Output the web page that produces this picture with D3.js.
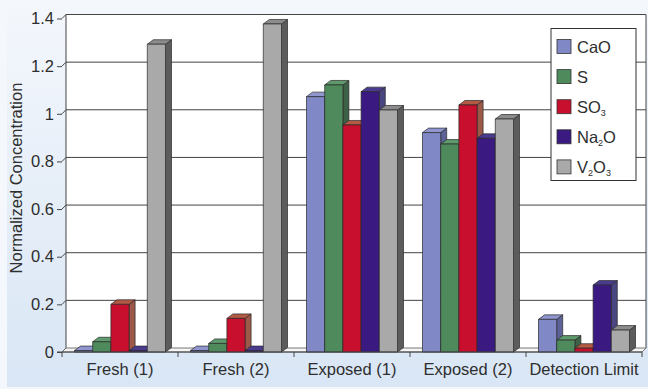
<!DOCTYPE html>
<html>
<head>
<meta charset="utf-8">
<script src="https://cdn.jsdelivr.net/npm/d3@7"></script>
<style>
  html, body { margin: 0; padding: 0; background: #fff; }
  svg { display: block; }
  text { font-family: "Liberation Sans", Arial, sans-serif; fill: #2e2e2e; }
</style>
</head>
<body>
<svg id="chart" width="648" height="389"></svg>
<script>
// Sample groups along the category axis
const categories = ["Fresh (1)", "Fresh (2)", "Exposed (1)", "Exposed (2)", "Detection Limit"];

// Normalized concentration per compound, one value per sample group
const caO  = [0.006, 0.006, 1.072, 0.921, 0.137];
const sulf = [0.043, 0.036, 1.121, 0.873, 0.050];
const so3  = [0.200, 0.141, 0.953, 1.037, 0.016];
const na2O = [0.006, 0.006, 1.093, 0.897, 0.281];
const v2O3 = [1.292, 1.377, 1.016, 0.978, 0.092];

// Legend entries: pieces of text, flagged when subscript
const seriesKeys = ["CaO", "S", "SO3", "Na2O", "V2O3"];
const legendParts = [
  [["CaO", false]],
  [["S", false]],
  [["SO", false], ["3", true]],
  [["Na", false], ["2", true], ["O", false]],
  [["V", false], ["2", true], ["O", false], ["3", true]]
];

// Value-axis ticks
const yTicks = [0, 0.2, 0.4, 0.6, 0.8, 1, 1.2, 1.4];
const yTickLabels = ["0", "0.2", "0.4", "0.6", "0.8", "1", "1.2", "1.4"];

const seriesValues = [caO, sulf, so3, na2O, v2O3];

// Face colours for each series: front, top, side
const faceColors = [
  { front: "#8088c6", top: "#9097cf", side: "#5d6398" },
  { front: "#4f8a5c", top: "#5e9a6b", side: "#3d6146" },
  { front: "#c8102e", top: "#b35a45", side: "#9c5848" },
  { front: "#3a1a80", top: "#4b3b8e", side: "#4a4680" },
  { front: "#a9a9a9", top: "#8c8c8c", side: "#5c5c5c" }
];

const FONT = 16.5;
const svg = d3.select("#chart");

// Background panel
const defs = svg.append("defs");
const grad = defs.append("linearGradient")
  .attr("id", "bg").attr("x1", 0).attr("y1", 0).attr("x2", 0).attr("y2", 1);
grad.append("stop").attr("offset", "0%").attr("stop-color", "#f4f7fc");
grad.append("stop").attr("offset", "100%").attr("stop-color", "#d9e6f5");
svg.append("rect").attr("x", 0).attr("y", 0).attr("width", 648).attr("height", 389).attr("fill", "#f4f8fc");
svg.append("rect").attr("x", 7).attr("y", 0).attr("width", 641).attr("height", 387).attr("fill", "url(#bg)");

// Front plane geometry and depth offsets
const front = { left: 62, right: 642, bottom: 352 };
const wallDx = 4, wallDy = -4;      // back wall offset
const barDx = 6, barDy = -4.5;      // bar depth offset

const x = d3.scaleBand().domain(categories).range([front.left, front.right]).paddingInner(0).paddingOuter(0);
const y = d3.scaleLinear().domain([0, 1.4]).range([front.bottom, 18.5]);

const groupWidth = 91;
const xs = d3.scaleBand().domain(seriesKeys)
  .range([0, groupWidth]).paddingInner(0).paddingOuter(0);

// Back wall
const wallLeft = front.left + wallDx, wallRight = front.right + wallDx;
svg.append("rect")
  .attr("x", wallLeft).attr("y", y(1.4) + wallDy)
  .attr("width", wallRight - wallLeft)
  .attr("height", y(0) - y(1.4))
  .attr("fill", "#ffffff");

// Gridlines on the back wall, with side-wall connectors to the ticks
const grid = svg.append("g").attr("stroke", "#444").attr("stroke-width", 1).attr("fill", "none");
yTicks.forEach(v => {
  const yy = y(v) + wallDy;
  if (v > 0) {
    grid.append("line").attr("x1", wallLeft).attr("x2", wallRight).attr("y1", yy).attr("y2", yy);
  }
  grid.append("line")
    .attr("x1", front.left).attr("y1", y(v))
    .attr("x2", wallLeft).attr("y2", yy);
});
grid.append("line").attr("x1", wallLeft).attr("x2", wallLeft)
  .attr("y1", y(1.4) + wallDy).attr("y2", y(0) + wallDy);
grid.append("line").attr("x1", wallRight).attr("x2", wallRight)
  .attr("y1", y(1.4) + wallDy).attr("y2", y(0) + wallDy);

// Floor
svg.append("path")
  .attr("d", `M${front.left},${front.bottom} L${front.right},${front.bottom} L${wallRight},${front.bottom + wallDy} L${wallLeft},${front.bottom + wallDy} Z`)
  .attr("fill", "#f6f6f4").attr("stroke", "#555").attr("stroke-width", 0.8);

// 3D columns, drawn left to right so nearer faces paint over
const bars = svg.append("g").attr("stroke", "#2a2a2a").attr("stroke-width", 0.7).attr("stroke-linejoin", "round");
categories.forEach((cat, ci) => {
  const gx = x(cat) + (x.bandwidth() - groupWidth) / 2;
  seriesKeys.forEach((key, si) => {
    const v = seriesValues[si][ci];
    const x0 = gx + xs(key), x1 = x0 + xs.bandwidth();
    const yTop = y(v), yBot = y(0);
    const c = faceColors[si];
    // side face
    bars.append("path")
      .attr("d", `M${x1},${yBot} L${x1 + barDx},${yBot + barDy} L${x1 + barDx},${yTop + barDy} L${x1},${yTop} Z`)
      .attr("fill", c.side);
    // top face
    bars.append("path")
      .attr("d", `M${x0},${yTop} L${x1},${yTop} L${x1 + barDx},${yTop + barDy} L${x0 + barDx},${yTop + barDy} Z`)
      .attr("fill", c.top);
    // front face
    bars.append("rect")
      .attr("x", x0).attr("y", yTop)
      .attr("width", x1 - x0).attr("height", Math.max(0, yBot - yTop))
      .attr("fill", c.front);
  });
});

// Value axis
const yAxis = d3.axisLeft(y)
  .tickValues(yTicks)
  .tickFormat((d, i) => yTickLabels[i])
  .tickSize(5).tickPadding(3);
const yg = svg.append("g").attr("transform", `translate(${front.left},0)`).call(yAxis);
yg.select(".domain").remove();
yg.selectAll(".tick line").attr("stroke", "#444");
yg.selectAll(".tick text")
  .attr("font-size", FONT)
  .attr("font-family", "Liberation Sans, Arial, sans-serif")
  .attr("fill", "#2e2e2e");

// Category axis
const xAxis = d3.axisBottom(x).tickSize(0).tickPadding(11);
const xg = svg.append("g").attr("transform", `translate(0,${front.bottom})`).call(xAxis);
xg.select(".domain").remove();
xg.selectAll(".tick text")
  .attr("font-size", FONT)
  .attr("font-family", "Liberation Sans, Arial, sans-serif")
  .attr("fill", "#2e2e2e");

// Boundary ticks between categories
const bounds = categories.map(c => x(c)).concat([x(categories[categories.length - 1]) + x.bandwidth()]);
svg.append("g").selectAll("line").data(bounds).join("line")
  .attr("x1", d => d).attr("x2", d => d)
  .attr("y1", front.bottom).attr("y2", front.bottom + 5)
  .attr("stroke", "#444");
svg.append("line")
  .attr("x1", front.left - 5).attr("x2", front.right)
  .attr("y1", front.bottom).attr("y2", front.bottom)
  .attr("stroke", "#444");

// Axis title
svg.append("text")
  .attr("transform", "translate(22,178) rotate(-90)")
  .attr("text-anchor", "middle")
  .attr("font-size", FONT)
  .text("Normalized Concentration");

// Legend
const legend = svg.append("g");
legend.append("rect")
  .attr("x", 551).attr("y", 28.5).attr("width", 85).attr("height", 152)
  .attr("fill", "#fff").attr("stroke", "#333").attr("stroke-width", 1);
const rowY = d3.scalePoint().domain(seriesKeys).range([46.5, 166.9]);
seriesKeys.forEach((key, i) => {
  const cy = rowY(key);
  legend.append("rect")
    .attr("x", 557).attr("y", cy - 7).attr("width", 14).attr("height", 14)
    .attr("fill", faceColors[i].front).attr("stroke", "#333").attr("stroke-width", 0.8);
  const t = legend.append("text")
    .attr("x", 577).attr("y", cy + 6)
    .attr("font-size", FONT);
  legendParts[i].forEach(([s, sub]) => {
    if (sub) {
      t.append("tspan").attr("font-size", 9).attr("dy", 3).text(s);
    } else {
      const ts = t.append("tspan").text(s);
      if (t.selectAll("tspan").size() > 1) ts.attr("dy", -3);
    }
  });
});
</script>
</body>
</html>
